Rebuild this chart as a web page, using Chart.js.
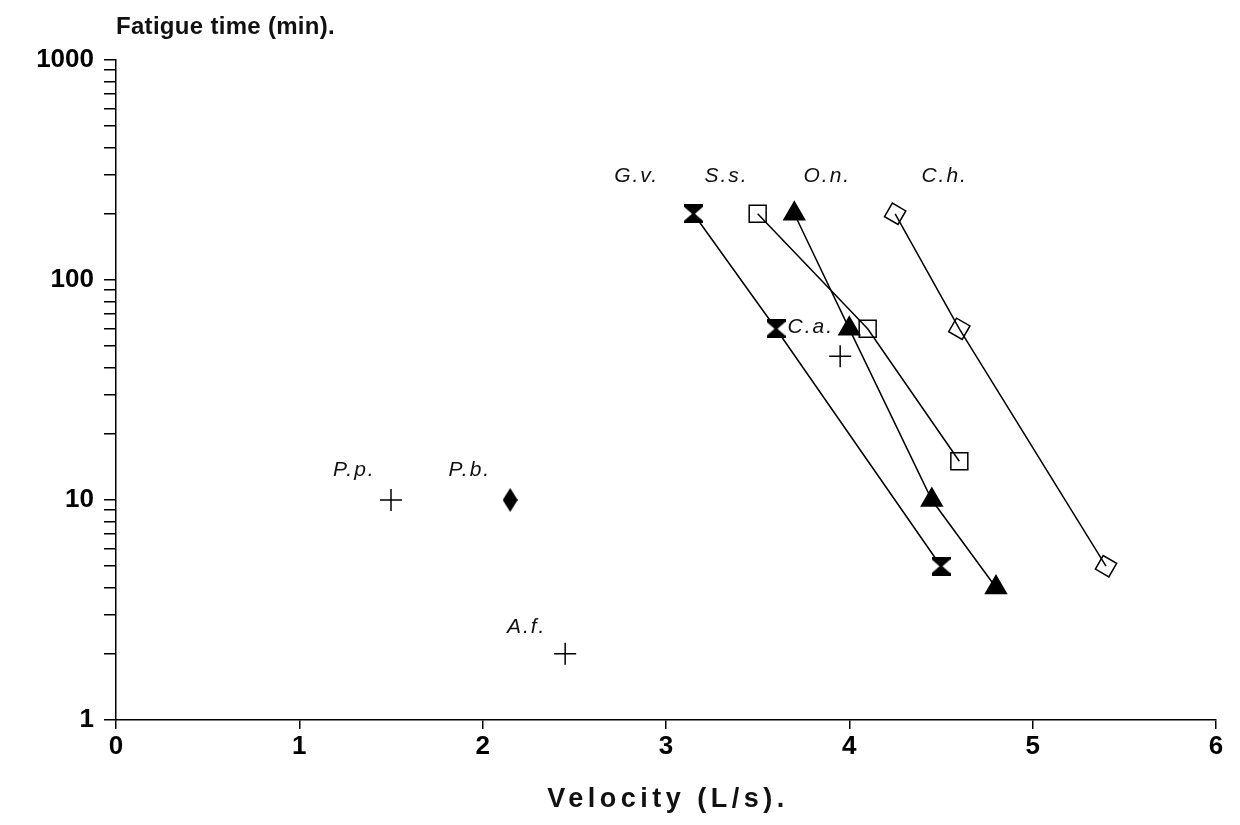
<!DOCTYPE html>
<html>
<head>
<meta charset="utf-8">
<style>
  html, body { margin: 0; padding: 0; background: #fff; }
  #wrap { width: 1240px; height: 825px; }
</style>
<script src="https://cdn.jsdelivr.net/npm/chart.js@4.4.1/dist/chart.umd.min.js"></script>
</head>
<body>
<div id="wrap"><canvas id="myChart" width="1240" height="825"></canvas></div>
<script>
// velocity (L/s) and fatigue time (min) per species
const gvVelocity = [3.15, 3.6, 4.5];
const gvTime = [200, 60, 5];
const ssVelocity = [3.5, 4.1, 4.6];
const ssTime = [200, 60, 15];
const onVelocity = [3.7, 4.0, 4.45, 4.8];
const onTime = [200, 60, 10, 4];
const chVelocity = [4.25, 4.6, 5.4];
const chTime = [200, 60, 5];
const caVelocity = [3.95];
const caTime = [45];
const ppVelocity = [1.5];
const ppTime = [10];
const pbVelocity = [2.15];
const pbTime = [10];
const afVelocity = [2.45];
const afTime = [2];

const xTicks = [0, 1, 2, 3, 4, 5, 6];
const yMajorTicks = [1, 10, 100, 1000];
const yMinorSteps = [2, 3, 4, 5, 6, 7, 8, 9];

const xTitle = 'Velocity (L/s).';
const yTitle = 'Fatigue time (min).';

// species names, placed in data coordinates
const speciesNames = ['G.v.', 'S.s.', 'O.n.', 'C.h.', 'C.a.', 'P.p.', 'P.b.', 'A.f.'];
const nameVelocity = [2.84, 3.33, 3.88, 4.52, 3.79, 1.30, 1.93, 2.24];
const nameTime = [295, 295, 295, 295, 61, 13.7, 13.7, 2.63];

const FONT = '"Liberation Sans", Arial, Helvetica, sans-serif';

function pts(xs, ys) {
  return xs.map((x, i) => ({ x: x, y: ys[i] }));
}

function hourglass(w, h) {
  const c = document.createElement('canvas');
  c.width = w; c.height = h;
  const g = c.getContext('2d');
  g.fillStyle = '#000';
  g.beginPath();
  g.moveTo(0, 0); g.lineTo(w, 0); g.lineTo(w, 2.5);
  g.lineTo(w / 2 + 1.5, h / 2);
  g.lineTo(w, h - 2.5); g.lineTo(w, h); g.lineTo(0, h); g.lineTo(0, h - 2.5);
  g.lineTo(w / 2 - 1.5, h / 2);
  g.lineTo(0, 2.5);
  g.closePath();
  g.fill();
  return c;
}

function tallDiamond(w, h) {
  const c = document.createElement('canvas');
  c.width = w; c.height = h;
  const g = c.getContext('2d');
  g.fillStyle = '#000';
  g.beginPath();
  g.moveTo(w / 2, 0); g.lineTo(w, h / 2); g.lineTo(w / 2, h); g.lineTo(0, h / 2);
  g.closePath();
  g.fill();
  return c;
}

const yTickValues = [];
yMajorTicks.forEach((m, i) => {
  yTickValues.push(m);
  if (i < yMajorTicks.length - 1) yMinorSteps.forEach(s => yTickValues.push(m * s));
});

const base = {
  borderColor: '#000',
  borderWidth: 1.5,
  pointBorderColor: '#000',
  pointBorderWidth: 1.5,
  tension: 0
};

const textPlugin = {
  id: 'texts',
  afterDraw(chart) {
    const ctx = chart.ctx;
    const xs = chart.scales.x, ys = chart.scales.y, area = chart.chartArea;
    ctx.save();
    ctx.fillStyle = '#111';
    ctx.textBaseline = 'middle';

    ctx.font = 'bold 24px ' + FONT;
    ctx.letterSpacing = '0.3px';
    ctx.textAlign = 'left';
    ctx.fillText(yTitle, area.left, 27);

    ctx.font = 'bold 27px ' + FONT;
    ctx.letterSpacing = '4.5px';
    ctx.textAlign = 'center';
    ctx.fillText(xTitle, (area.left + area.right) / 2 + 2, 800);

    ctx.font = 'italic 21px ' + FONT;
    ctx.letterSpacing = '2px';
    speciesNames.forEach((name, i) => {
      ctx.fillText(name, xs.getPixelForValue(nameVelocity[i]), ys.getPixelForValue(nameTime[i]));
    });
    ctx.restore();
  }
};

new Chart(document.getElementById('myChart'), {
  type: 'scatter',
  data: {
    datasets: [
      Object.assign({}, base, { data: pts(gvVelocity, gvTime), showLine: true,
        pointStyle: hourglass(19, 19), pointRadius: 10 }),
      Object.assign({}, base, { data: pts(ssVelocity, ssTime), showLine: true,
        pointStyle: 'rect', pointRadius: 12, pointBackgroundColor: 'rgba(0,0,0,0)' }),
      Object.assign({}, base, { data: pts(onVelocity, onTime), showLine: true,
        pointStyle: 'triangle', pointRadius: 12, pointBackgroundColor: '#000' }),
      Object.assign({}, base, { data: pts(chVelocity, chTime), showLine: true,
        pointStyle: 'rectRot', pointRotation: -15, pointRadius: 11, pointBackgroundColor: 'rgba(0,0,0,0)' }),
      Object.assign({}, base, { data: pts(caVelocity, caTime), showLine: false,
        pointStyle: 'cross', pointRadius: 11 }),
      Object.assign({}, base, { data: pts(ppVelocity, ppTime), showLine: false,
        pointStyle: 'cross', pointRadius: 11 }),
      Object.assign({}, base, { data: pts(pbVelocity, pbTime), showLine: false,
        pointStyle: tallDiamond(15, 24), pointRadius: 12 }),
      Object.assign({}, base, { data: pts(afVelocity, afTime), showLine: false,
        pointStyle: 'cross', pointRadius: 11 })
    ]
  },
  options: {
    responsive: false,
    animation: false,
    devicePixelRatio: 1,
    events: [],
    layout: { padding: { left: 0, top: 60, right: 24, bottom: 0 } },
    plugins: { legend: { display: false }, tooltip: { enabled: false }, title: { display: false } },
    scales: {
      x: {
        type: 'linear',
        min: 0, max: 6,
        afterFit: s => { s.height = 105; },
        afterBuildTicks: s => { s.ticks = xTicks.map(v => ({ value: v })); },
        grid: { drawOnChartArea: false, tickLength: 9, color: '#000', lineWidth: 1.5 },
        border: { color: '#000', width: 1.5 },
        ticks: { color: '#000', padding: 2, font: { family: FONT, size: 26, weight: 'bold' } }
      },
      y: {
        type: 'logarithmic',
        min: 1, max: 1000,
        afterFit: s => { s.width = 116; },
        afterBuildTicks: s => { s.ticks = yTickValues.map(v => ({ value: v })); },
        grid: { drawOnChartArea: false, tickLength: 12, color: '#000', lineWidth: 1.5 },
        border: { color: '#000', width: 1.5 },
        ticks: {
          autoSkip: false,
          color: '#000',
          padding: 10,
          font: { family: FONT, size: 26, weight: 'bold' },
          callback: v => yMajorTicks.includes(v) ? String(v) : ''
        }
      }
    }
  },
  plugins: [textPlugin]
});
</script>
</body>
</html>
